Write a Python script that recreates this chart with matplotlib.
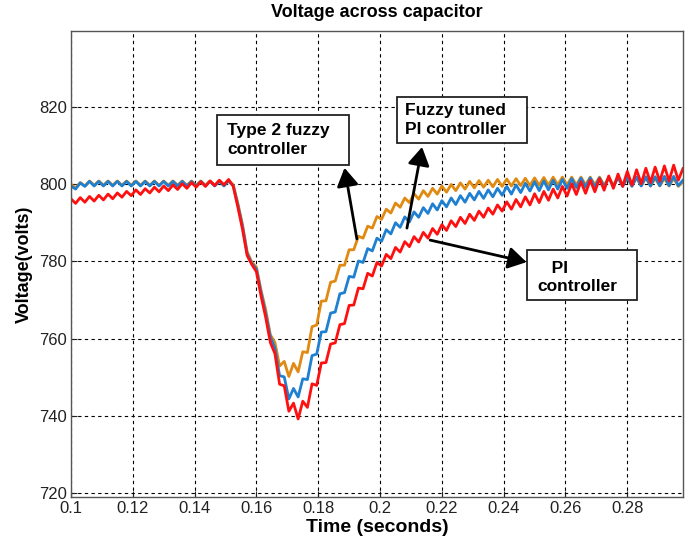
import numpy as np
import matplotlib.pyplot as plt
from matplotlib.patches import Rectangle

plt.rcParams['font.family'] = ['Liberation Sans', 'DejaVu Sans']

# time samples (every 1.5 ms, half a ripple period)
t = np.linspace(0.1, 0.298, 133)

type2_fuzzy = [
    799.9, 799.0, 800.4, 799.5, 800.8, 799.7, 800.8, 799.7, 800.8, 799.7,
    800.8, 799.7, 800.8, 799.7, 800.8, 799.7, 800.8, 799.7, 800.8, 799.7,
    800.8, 799.7, 800.8, 799.7, 800.8, 799.7, 800.8, 799.7, 800.8, 799.7,
    800.8, 799.7, 800.8, 799.7, 800.9, 799.8, 795.0, 789.5, 782.5, 779.8,
    778.5, 772.5, 767.5, 761.0, 759.0, 752.9, 754.1, 750.2, 753.6, 751.4,
    756.6, 756.4, 763.1, 763.5, 769.7, 769.8, 774.6, 774.9, 779.0, 779.0,
    783.0, 783.0, 786.5, 786.0, 789.1, 788.6, 791.6, 790.9, 793.5, 792.5,
    795.1, 794.0, 796.4, 795.2, 797.5, 796.1, 798.3, 796.8, 798.9, 797.4,
    799.5, 797.9, 799.9, 798.3, 800.3, 798.7, 800.7, 799.0, 800.9, 799.2,
    801.0, 799.3, 801.2, 799.4, 801.3, 799.5, 801.4, 799.6, 801.5, 799.6,
    801.6, 799.7, 801.7, 799.7, 801.8, 799.8, 801.8, 799.8, 801.8, 799.8,
    801.8, 799.8, 801.8, 799.8, 801.8, 799.7, 801.7, 799.7, 801.7, 799.6,
    801.6, 799.6, 801.6, 799.6, 801.6, 799.5, 801.5, 799.5, 801.5, 799.5,
    801.5, 799.4, 800.6,
]

fuzzy_pi = [
    799.5, 798.7, 800.3, 799.4, 800.7, 799.5, 800.7, 799.5, 800.7, 799.5,
    800.7, 799.5, 800.7, 799.5, 800.7, 799.5, 800.7, 799.5, 800.7, 799.5,
    800.7, 799.5, 800.7, 799.5, 800.7, 799.5, 800.7, 799.5, 800.7, 799.5,
    800.7, 799.5, 800.7, 799.5, 800.8, 799.6, 794.6, 789.0, 782.0, 779.5,
    778.0, 772.0, 766.5, 760.5, 757.5, 750.4, 750.1, 744.4, 747.1, 744.9,
    749.6, 749.4, 755.6, 756.0, 761.7, 761.8, 766.6, 766.9, 771.6, 771.9,
    776.1, 775.9, 780.1, 779.7, 783.3, 782.7, 786.0, 785.2, 788.2, 787.1,
    790.0, 788.8, 791.5, 790.2, 792.8, 791.4, 793.9, 792.4, 794.9, 793.3,
    795.7, 794.1, 796.4, 794.7, 797.0, 795.3, 797.6, 795.9, 798.1, 796.3,
    798.5, 796.7, 798.9, 797.1, 799.4, 797.4, 799.8, 797.8, 800.2, 798.2,
    800.6, 798.3, 800.8, 798.5, 801.0, 798.7, 801.2, 798.9, 801.4, 799.1,
    801.5, 799.2, 801.6, 799.2, 801.6, 799.3, 801.7, 799.3, 801.7, 799.4,
    801.8, 799.4, 801.8, 799.5, 801.9, 799.5, 801.9, 799.6, 802.0, 799.6,
    802.0, 799.6, 801.0,
]

pi_ctrl = [
    796.2, 795.0, 796.5, 795.3, 796.8, 795.6, 797.1, 795.9, 797.4, 796.2,
    797.7, 796.6, 798.1, 797.0, 798.5, 797.3, 798.8, 797.7, 799.2, 798.0,
    799.5, 798.3, 799.8, 798.6, 800.1, 798.9, 800.4, 799.2, 800.6, 799.4,
    800.8, 799.6, 801.0, 799.8, 801.2, 799.4, 794.0, 788.3, 781.5, 779.2,
    777.3, 771.0, 765.5, 759.0, 756.1, 748.2, 747.8, 741.2, 743.3, 739.2,
    743.8, 742.2, 748.3, 747.9, 753.7, 753.8, 758.6, 758.9, 763.6, 763.9,
    768.6, 768.7, 773.1, 772.9, 776.9, 776.2, 779.7, 778.8, 781.8, 780.7,
    783.6, 782.4, 785.1, 783.8, 786.4, 785.0, 787.5, 786.0, 788.5, 787.0,
    789.5, 788.0, 790.5, 789.0, 791.4, 789.8, 792.2, 790.6, 793.0, 791.4,
    793.8, 792.2, 794.6, 793.0, 795.4, 793.5, 796.0, 794.1, 796.7, 794.6,
    797.5, 795.2, 798.1, 795.8, 798.7, 796.4, 799.4, 796.9, 800.1, 797.3,
    800.6, 797.6, 801.0, 798.0, 801.4, 798.4, 802.1, 798.9, 802.6, 799.4,
    803.3, 799.7, 803.7, 800.1, 804.1, 800.4, 804.4, 800.7, 804.7, 800.8,
    804.9, 801.0, 804.0,
]

xticks = [0.1, 0.12, 0.14, 0.16, 0.18, 0.2, 0.22, 0.24, 0.26, 0.28]
xtick_labels = ['0.1', '0.12', '0.14', '0.16', '0.18', '0.2', '0.22', '0.24', '0.26', '0.28']
yticks = [720, 740, 760, 780, 800, 820]

fig = plt.figure(figsize=(6.85, 5.45), dpi=100)
ax = fig.add_axes([0.1036, 0.088, 0.8934, 0.855])

ax.plot(t, type2_fuzzy, color='#e08a12', lw=2.0)
ax.plot(t, fuzzy_pi, color='#1f7fd0', lw=2.0)
ax.plot(t, pi_ctrl, color='#ff1010', lw=2.0)

ax.set_xlim(0.1, 0.298)
ax.set_ylim(719, 839.6)
ax.set_xticks(xticks)
ax.set_xticklabels(xtick_labels)
ax.set_yticks(yticks)
ax.tick_params(direction='in', length=4, labelsize=12, colors='#222222', pad=3)
ax.grid(True, color='black', linestyle=(0, (3, 3)), lw=0.8)
for s in ax.spines.values():
    s.set_color('#555555')
    s.set_linewidth(1.0)

ax.set_title('Voltage across capacitor', fontsize=13, fontweight='bold', pad=10)
ax.set_xlabel('Time (seconds)', fontsize=14, fontweight='bold', labelpad=2)
ax.set_ylabel('Voltage(volts)', fontsize=13, fontweight='bold', labelpad=4)

# annotation boxes
boxes = [
    ((0.1472, 804.9), 0.0428, 13.0, 0.1505, 811.4, 'Type 2 fuzzy\ncontroller'),
    ((0.2055, 810.6), 0.0421, 11.9, 0.2081, 816.6, 'Fuzzy tuned\nPI controller'),
    ((0.2476, 770.0), 0.0356, 12.9, 0.2508, 775.8, '   PI\ncontroller'),
]
for (x0, y0), w, h, tx, ty, label in boxes:
    ax.add_patch(Rectangle((x0, y0), w, h, facecolor='white', edgecolor='#222222', lw=1.3, zorder=5))
    ax.text(tx, ty, label, fontsize=12.5, fontweight='bold', va='center', ha='left',
            linespacing=1.3, zorder=6)

arrow = dict(arrowstyle='-|>,head_length=0.5,head_width=0.3', color='black', lw=2.0,
             mutation_scale=22, shrinkA=0, shrinkB=0)
ax.annotate('', xy=(0.1885, 804.2), xytext=(0.1925, 785.8), arrowprops=arrow, zorder=7)
ax.annotate('', xy=(0.2136, 809.6), xytext=(0.2087, 788.6), arrowprops=arrow, zorder=7)
ax.annotate('', xy=(0.2474, 779.8), xytext=(0.2162, 785.5), arrowprops=arrow, zorder=7)

fig.savefig('out.png', dpi=100)
